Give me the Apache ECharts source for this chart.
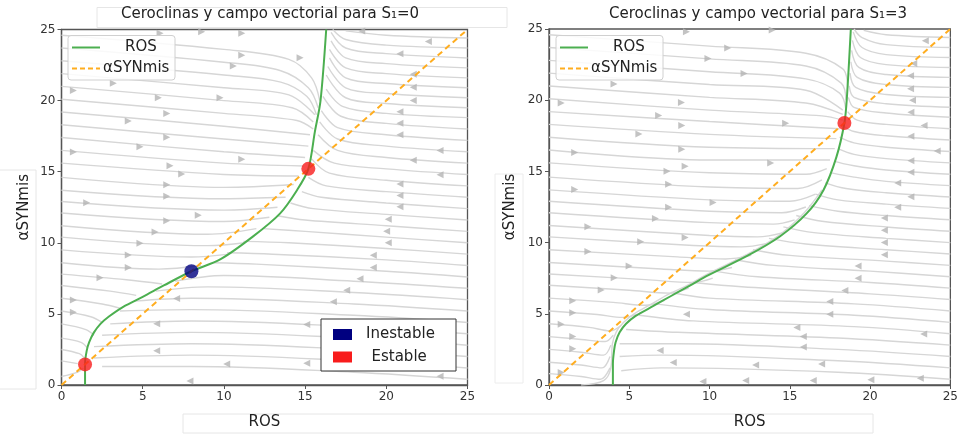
<!DOCTYPE html>
<html lang="es">
<head>
<meta charset="UTF-8">
<title>Ceroclinas</title>
<script src="https://cdn.jsdelivr.net/npm/echarts@6/dist/echarts.min.js"></script>
<style>
  html, body { margin: 0; padding: 0; background: #fff; }
  #chart { width: 961px; height: 435px; }
</style>
</head>
<body>
<div id="chart"></div>
<script>
// ---- datos ----
var xTicks = [0, 5, 10, 15, 20, 25];
var diag = [[0, 0], [25, 25]];   // ceroclina aSYNmis (y = x)

// panel S1=0
var ros0 = [[1.45,0],[1.45,1.5],[1.55,2.4],[1.7,3.0],[2.0,3.7],[2.4,4.3],[2.9,4.8],[3.8,5.5],[5.0,6.2],[6.3,7.0],[8,8],[9.8,8.85],[11.8,10.45],[13.45,12.05],[14.5,13.7],[15.2,15.2],[15.6,17.8],[15.95,20],[16.3,25]];
var estable0 = [[1.45,1.45],[15.2,15.2]];
var inestable0 = [[8,8]];

// panel S1=3
var ros3 = [[3.98,0],[3.98,1.5],[4.05,2.4],[4.15,3.0],[4.4,3.7],[4.8,4.3],[5.4,4.85],[6.5,5.55],[7.6,6.25],[8.8,7.0],[9.9,7.7],[12.4,9.1],[14.4,10.45],[16.05,12.05],[17.1,13.7],[17.9,16],[18.4,18.4],[18.55,20.1],[18.8,25]];
var estable3 = [[18.4,18.4]];

// lineas de flujo (campo vectorial), panel S1=0
var flowRight0 = [
  [[0,24.6],[10,23.6],[14,22.9],[15.4,21.6],[15.9,20]],
  [[0,23.7],[10,22.7],[13.5,22.1],[15.2,20.9],[15.8,19.5]],
  [[0,22.8],[10,21.8],[13.5,21.3],[15.1,20.3],[15.7,19]],
  [[0,21.9],[10,20.9],[14,20.4],[15.6,19]],
  [[0,21],[10,20],[14.2,19.5],[15.5,18.5]],
  [[0,20.1],[10,19.1],[14.5,18.6],[15.5,18]],
  [[0,19.2],[10,18.2],[15.3,17.6]],
  [[0,18.3],[10,17.3],[15.2,16.8]],
  [[0,17.4],[10,16.4],[15,16]],
  [[0,16.5],[10,15.6],[14.9,15.4]],
  [[0,15.6],[10,14.8],[14.6,14.7]],
  [[0,14.6],[10,13.9],[14.3,14.1]],
  [[0,13.7],[10,13.1],[13.8,13.2]],
  [[0,12.9],[10,12.3],[13.3,12.5]],
  [[0,12.1],[10,11.5],[12.8,11.8]],
  [[0,11.2],[9,10.6],[12,11]],
  [[0,10.4],[9,9.8],[11.3,10]],
  [[0,9.5],[8,9],[10.3,9.2]],
  [[0,8.6],[6,8.15],[8.6,8.4]],
  [[0,7.8],[4,7.4],[6.2,7.1]],
  [[0,7.0],[3,6.6],[4.6,6.3]],
  [[0,6.1],[2.5,5.7],[3.6,5.4]],
  [[0,5.2],[1.8,4.8],[2.5,4.4]],
  [[0,4.3],[1.5,3.9],[2.0,3.5]],
  [[0,3.3],[1.2,3.0],[1.6,2.6]],
  [[0,2.5],[1.1,2.2],[1.4,1.9]],
  [[0,1.7],[1,1.5]],
  [[0,0.6],[1.0,0.9],[1.35,1.2]]
];
var flowLeft0 = [
  [[25,24.4],[20,24.6],[17.5,24.9]],
  [[25,23.7],[20,23.9],[17.5,24.3],[16.7,25]],
  [[25,23.0],[20,23.3],[17.5,23.7],[16.6,24.8]],
  [[25,22.3],[20,22.6],[17.5,23.0],[16.6,24.2]],
  [[25,21.6],[20,21.9],[17.5,22.3],[16.5,23.6]],
  [[25,20.9],[20,21.2],[17.5,21.6],[16.5,23]],
  [[25,20.2],[20,20.5],[17.5,20.9],[16.4,22.4]],
  [[25,19.5],[20,19.8],[17.5,20.2],[16.3,21.8]],
  [[25,18.8],[20,19.1],[17.3,19.6],[16.3,20.8]],
  [[25,18],[20,18.4],[17.2,18.9],[16.1,20.3]],
  [[25,17.2],[20,17.6],[17,18.1],[16,19.3]],
  [[25,16.4],[20,16.8],[17,17.3],[15.9,18.5]],
  [[25,15.6],[20,16.0],[17,16.5],[15.8,17.6]],
  [[25,14.8],[20,15.2],[16.8,15.6],[15.5,16.5]],
  [[25,14],[20,14.4],[16.5,14.9],[15.4,15.9]],
  [[25,13.2],[20,13.6],[16.3,14.0],[15.2,14.6]],
  [[25,12.4],[20,12.8],[16,13.2],[14.8,13.6]],
  [[25,11.6],[20,12],[15.5,12.4],[14.1,12.8]],
  [[25,10.8],[20,11.2],[15,11.6],[13.3,11.9]],
  [[25,10],[20,10.4],[15,10.8],[12.4,11]],
  [[25,9.2],[20,9.6],[14,10],[11.2,10.1]],
  [[25,8.4],[20,8.8],[13,9.2],[10.2,9.3]],
  [[25,7.6],[20,8],[12,8.5],[9.3,8.6]],
  [[25,6.8],[18,7.3],[10,7.7],[7,7.3]],
  [[25,6],[18,6.5],[9,6.9],[5.8,6.6]],
  [[25,5.2],[18,5.7],[8,6.1],[4.5,5.9]],
  [[25,4.4],[18,4.9],[8,5.3],[3.6,5.2]],
  [[25,3.6],[18,4.1],[8,4.5],[3,4.3]],
  [[25,2.8],[18,3.3],[8,3.7],[2.5,3.5]],
  [[25,2.0],[18,2.5],[8,2.9],[2.0,2.7]],
  [[25,1.2],[18,1.7],[8,2.1],[2,1.9]],
  [[25,0.4],[18,0.9],[8,1.3],[2.5,1.3]]
];
var arrowsRight0 = [[6.07,24.74],[8.63,24.85],[11.1,24.74],[14.69,23.01],[11.1,23.19],[10.58,22.43],[3.19,21.22],[0.73,20.71],[5.96,20.2],[9.76,20.2],[6.48,19.1],[4.11,18.57],[6.48,17.42],[4.83,16.75],[0.73,16.38],[11.1,15.87],[6.68,15.41],[7.4,14.83],[6.48,14.08],[6.48,13.27],[1.55,12.81],[8.42,11.93],[6.48,11.55],[5.76,10.76],[4.83,9.96],[4.11,9.15],[4.11,8.27],[2.37,7.54],[0.73,5.97],[0.73,5.12]];
var arrowsLeft0 = [[18.49,24.9],[22.59,24.16],[20.84,23.29],[21.66,21.86],[21.66,20.94],[21.66,20.01],[20.84,19.21],[20.84,18.4],[20.84,17.6],[23.31,16.49],[21.66,15.8],[23.31,14.79],[20.84,14.14],[20.84,13.32],[20.84,12.53],[20.12,11.66],[20.02,10.81],[20.12,10.0],[19.2,9.13],[19.2,8.27],[18.38,7.47],[17.56,6.66],[7.09,6.09],[16.74,5.86],[5.86,4.3],[15.1,4.25],[5.86,2.4],[10.17,1.48],[15.1,1.53],[7.91,0.29],[23.31,0.61]];

// lineas de flujo, panel S1=3
var flowRight3 = [
  [[0,24.6],[10,23.8],[16,23.3],[18.3,22.2],[18.6,21]],
  [[0,23.7],[10,22.9],[16,22.4],[18.2,21.2],[18.5,20]],
  [[0,22.8],[10,22],[16,21.5],[18.1,20.5],[18.5,19.3]],
  [[0,21.9],[10,21.1],[16,20.7],[18.3,19.3]],
  [[0,21],[10,20.2],[16,19.8],[18.3,19]],
  [[0,20.1],[10,19.3],[17,18.9],[18.3,18.6]],
  [[0,19.2],[10,18.5],[18.1,18.0]],
  [[0,18.3],[10,17.6],[17.9,17.3]],
  [[0,17.4],[10,16.7],[17.8,16.6]],
  [[0,16.5],[10,15.8],[17.5,15.8]],
  [[0,15.6],[10,14.9],[16,14.8],[17.3,15.2]],
  [[0,14.6],[10,13.9],[15.5,13.8],[17,14.4]],
  [[0,13.7],[10,13],[15,12.9],[16.6,13.4]],
  [[0,12.9],[10,12.2],[14.5,12.1],[16,12.5]],
  [[0,12.1],[10,11.4],[14,11.3],[15.3,11.6]],
  [[0,11.2],[10,10.5],[13,10.4],[14.6,10.7]],
  [[0,10.4],[9,9.8],[12,9.7],[13.6,9.95]],
  [[0,9.5],[8,9],[11,8.85],[12.6,9.1]],
  [[0,8.6],[7,8.15],[10,8.0],[11.4,8.25]],
  [[0,7.8],[6,7.4],[9,7.2],[10.2,7.5]],
  [[0,7],[5,6.65],[7.5,6.45],[8.7,6.8]],
  [[0,6.1],[4,5.8],[6,5.6],[7.2,5.95]],
  [[0,5.2],[3,4.95],[4.6,4.75],[5.7,5.05]],
  [[0,4.3],[2.5,4.05],[3.8,3.8],[4.5,4.2]],
  [[0,3.4],[2,3.2],[3.5,3.05],[4.0,3.5]],
  [[0,2.5],[2,2.3],[3.4,2.1],[3.85,2.8]],
  [[0,1.6],[2,1.4],[3.3,1.2],[3.8,2.0]],
  [[0,0.8],[2,0.6],[3.2,0.4],[3.8,1.2]],
  [[2,0],[3.4,0.3],[3.85,1.2],[3.95,2.9],[4.2,3.75],[4.65,4.4],[5.3,5.0],[6.4,5.7],[7.4,6.35],[8.7,7.05],[9.8,7.75],[12.3,9.15],[14.3,10.5],[15.9,12.1],[17,13.7]]
];
var flowLeft3 = [
  [[25,24.4],[21,24.6],[19.6,24.9]],
  [[25,23.7],[21,23.9],[19.5,24.4],[19.0,25]],
  [[25,23],[21,23.2],[19.5,23.7],[18.95,24.8]],
  [[25,22.3],[21,22.5],[19.4,23],[18.9,24.2]],
  [[25,21.6],[21,21.8],[19.3,22.3],[18.85,23.5]],
  [[25,20.9],[21,21.1],[19.2,21.6],[18.8,22.7]],
  [[25,20.2],[21,20.4],[19.1,20.9],[18.75,21.9]],
  [[25,19.5],[21,19.75],[19,20.2],[18.7,21]],
  [[25,18.8],[21,19.1],[19,19.5],[18.65,20.2]],
  [[25,18],[21,18.3],[19.2,18.6],[18.6,19.2]],
  [[25,17.2],[21,17.5],[19,17.8],[18.3,18.2]],
  [[25,16.4],[21,16.7],[19,17],[18.1,17.4]],
  [[25,15.6],[21,15.9],[19,16.2],[18,16.6]],
  [[25,14.8],[21,15.1],[19,15.4],[17.8,15.7]],
  [[25,14],[21,14.3],[19,14.6],[17.6,14.9]],
  [[25,13.2],[21,13.5],[18.5,13.8],[17.2,14.2]],
  [[25,12.4],[21,12.7],[18,13],[16.6,13.4]],
  [[25,11.6],[21,11.9],[18,12.2],[16.2,12.6]],
  [[25,10.8],[21,11.1],[17,11.5],[15.4,11.9]],
  [[25,10],[21,10.3],[16.5,10.7],[14.6,11.1]],
  [[25,9.2],[21,9.5],[16,9.9],[13.7,10.3]],
  [[25,8.4],[21,8.7],[15,9.1],[12.7,9.5]],
  [[25,7.6],[20,8],[14,8.4],[11.6,8.8]],
  [[25,6.8],[20,7.2],[13,7.6],[10.3,8]],
  [[25,6],[20,6.4],[12,6.9],[9,7.2]],
  [[25,5.2],[19,5.7],[10,6.1],[7.6,6.5]],
  [[25,4.4],[19,4.9],[10,5.3],[6.6,5.7]],
  [[25,3.6],[19,4.1],[9,4.5],[5.6,4.9]],
  [[25,2.8],[18,3.3],[8,3.7],[4.8,3.9]],
  [[25,2.0],[18,2.5],[8,2.9],[4.4,2.9]],
  [[25,1.2],[18,1.7],[7,2.1],[4.4,2.0]],
  [[25,0.4],[18,0.9],[7,1.2],[4.5,1.0]]
];
var arrowsRight3 = [[8.56,24.81],[13.9,24.93],[11.13,23.67],[9.9,22.93],[12.15,21.88],[4.05,21.14],[0.76,19.81],[8.25,19.83],[6.83,18.92],[8.27,18.23],[14.74,18.39],[5.6,17.63],[1.6,16.32],[8.27,16.55],[7.35,15.01],[8.48,15.36],[13.81,15.59],[7.45,14.1],[1.6,13.73],[7.45,12.49],[10.22,12.81],[6.63,11.69],[2.42,11.11],[8.48,10.35],[5.71,10.06],[2.42,9.37],[4.99,8.36],[4.06,7.53],[3.25,6.68],[1.48,5.92],[1.48,5.07],[0.76,4.27],[1.48,3.4],[1.48,2.55],[0.76,0.87]];
var arrowsLeft3 = [[23.44,24.17],[22.72,22.57],[22.52,21.72],[22.52,20.8],[22.64,19.99],[22.54,19.15],[23.36,18.23],[22.54,17.47],[24.18,16.44],[22.54,15.75],[22.54,14.94],[21.72,14.19],[22.54,13.22],[21.72,12.49],[20.89,11.73],[20.89,10.86],[20.89,10.01],[20.89,9.14],[19.25,8.36],[19.25,7.49],[18.43,6.63],[17.49,5.87],[8.56,4.96],[17.49,4.96],[15.44,4.04],[15.84,3.4],[15.84,2.67],[23.34,3.58],[6.92,2.43],[7.74,1.58],[12.87,1.4],[16.98,1.47],[9.59,0.25],[12.25,0.32],[16.46,0.32],[20.05,0.37],[23.13,0.48]];

// ---- estilos ----
var FONT = 'DejaVu Sans';
var GREEN = '#4caf50';
var ORANGE = '#ffad1f';
var RED = '#f81c1c';
var NAVY = '#000080';
var STREAM = '#d6d6d6';
var ARROW = '#b4b4b4';

function streamSeries(lines, idx) {
    return lines.map(function (pts) {
        return {
            type: 'line', xAxisIndex: idx, yAxisIndex: idx,
            data: pts, symbol: 'none', smooth: 0.35, silent: true, z: 1,
            lineStyle: { color: STREAM, width: 1.4 }
        };
    });
}
function arrowSeries(pts, idx, rot) {
    return {
        type: 'scatter', xAxisIndex: idx, yAxisIndex: idx,
        data: pts, symbol: 'triangle', symbolSize: [7, 7], symbolRotate: rot,
        itemStyle: { color: ARROW }, silent: true, z: 2
    };
}
function panelSeries(idx, ros, est, inest) {
    var s = [
        { type: 'line', xAxisIndex: idx, yAxisIndex: idx, data: ros, symbol: 'none', smooth: 0.3, z: 3,
          lineStyle: { color: GREEN, width: 2 } },
        { type: 'line', xAxisIndex: idx, yAxisIndex: idx, data: diag, symbol: 'none', z: 4,
          lineStyle: { color: ORANGE, width: 2, type: [6, 4] } },
        { type: 'scatter', xAxisIndex: idx, yAxisIndex: idx, data: est, symbolSize: 14, z: 5,
          itemStyle: { color: RED } }
    ];
    if (inest) {
        s.push({ type: 'scatter', xAxisIndex: idx, yAxisIndex: idx, data: inest, symbolSize: 14, z: 5,
                 itemStyle: { color: NAVY } });
    }
    return s;
}

function makeX(idx) {
    return {
        gridIndex: idx, type: 'value', min: 0, max: 25, interval: 5,
        name: 'ROS', nameLocation: 'middle', nameGap: 30,
        nameTextStyle: { fontFamily: FONT, fontSize: 15, color: '#222' },
        axisLine: { show: true, lineStyle: { color: '#555', width: 1.3 } },
        axisTick: { show: true, inside: false, length: 4, lineStyle: { color: '#555' } },
        axisLabel: { fontFamily: FONT, fontSize: 12, color: '#333', margin: 6 },
        splitLine: { show: false }
    };
}
function makeY(idx, gap) {
    return {
        gridIndex: idx, type: 'value', min: 0, max: 25, interval: 5,
        name: 'αSYNmis', nameLocation: 'middle', nameGap: gap,
        nameTextStyle: { fontFamily: FONT, fontSize: 15, color: '#222' },
        axisLine: { show: true, lineStyle: { color: '#555', width: 1.3 } },
        axisTick: { show: true, inside: false, length: 4, lineStyle: { color: '#555' } },
        axisLabel: { fontFamily: FONT, fontSize: 12, color: '#333', margin: 6 },
        splitLine: { show: false }
    };
}

function legendTop(dx) {
    return [
        { type: 'rect', shape: { x: 68 + dx, y: 35.5, width: 107, height: 44.5, r: 3 },
          style: { fill: 'rgba(255,255,255,0.85)', stroke: '#d0d0d0', lineWidth: 1 }, z: 10 },
        { type: 'line', shape: { x1: 72 + dx, y1: 47.5, x2: 100 + dx, y2: 47.5 },
          style: { stroke: GREEN, lineWidth: 2 }, z: 11 },
        { type: 'text', x: 125 + dx, y: 47.5, z: 11,
          style: { text: 'ROS', font: '15px "DejaVu Sans"', fill: '#222', textVerticalAlign: 'middle' } },
        { type: 'line', shape: { x1: 72 + dx, y1: 68.5, x2: 100 + dx, y2: 68.5 },
          style: { stroke: ORANGE, lineWidth: 2, lineDash: [5, 3] }, z: 11 },
        { type: 'text', x: 103 + dx, y: 68.5, z: 11,
          style: { text: 'αSYNmis', font: '15px "DejaVu Sans"', fill: '#222', textVerticalAlign: 'middle' } }
    ];
}

var graphics = [
    // recuadros tenues de fondo
    { type: 'rect', shape: { x: 97, y: 7.5, width: 410, height: 20 }, style: { fill: 'none', stroke: '#e6e6e6' }, z: 0 },
    { type: 'rect', shape: { x: -2, y: 170, width: 38, height: 219 }, style: { fill: 'none', stroke: '#e6e6e6' }, z: 0 },
    { type: 'rect', shape: { x: 183, y: 414, width: 690, height: 19 }, style: { fill: 'none', stroke: '#e6e6e6' }, z: 0 },
    { type: 'rect', shape: { x: 495, y: 174, width: 28, height: 209 }, style: { fill: 'none', stroke: '#ececec' }, z: 0 },
    // leyenda de puntos de equilibrio
    { type: 'rect', shape: { x: 321, y: 319, width: 135, height: 52 }, style: { fill: '#fff', stroke: '#333', lineWidth: 1 }, z: 10 },
    { type: 'rect', shape: { x: 333, y: 329, width: 19, height: 11 }, style: { fill: NAVY }, z: 11 },
    { type: 'rect', shape: { x: 333, y: 351.5, width: 19, height: 11 }, style: { fill: RED }, z: 11 },
    { type: 'text', x: 366, y: 334.5, z: 11,
      style: { text: 'Inestable', font: '15px "DejaVu Sans"', fill: '#222', textVerticalAlign: 'middle' } },
    { type: 'text', x: 371.5, y: 357, z: 11,
      style: { text: 'Estable', font: '15px "DejaVu Sans"', fill: '#222', textVerticalAlign: 'middle' } }
].concat(legendTop(0), legendTop(488));

var option = {
    animation: false,
    backgroundColor: '#fff',
    title: [
        { text: 'Ceroclinas y campo vectorial para S₁=0', left: 265, top: 2, textAlign: 'center',
          textStyle: { fontFamily: FONT, fontSize: 15, fontWeight: 'normal', color: '#222' } },
        { text: 'Ceroclinas y campo vectorial para S₁=3', left: 753, top: 2, textAlign: 'center',
          textStyle: { fontFamily: FONT, fontSize: 15, fontWeight: 'normal', color: '#222' } }
    ],
    grid: [
        { left: 61.5, top: 29.5, width: 406, height: 362, show: true, borderColor: '#555', borderWidth: 1.3, backgroundColor: 'transparent' },
        { left: 549, top: 29, width: 406, height: 363, show: true, borderColor: '#555', borderWidth: 1.3, backgroundColor: 'transparent' }
    ],
    xAxis: [makeX(0), makeX(1)],
    yAxis: [makeY(0, 30), makeY(1, 31)],
    series: [].concat(
        streamSeries(flowRight0, 0), streamSeries(flowLeft0, 0),
        [arrowSeries(arrowsRight0, 0, -90), arrowSeries(arrowsLeft0, 0, 90)],
        panelSeries(0, ros0, estable0, inestable0),
        streamSeries(flowRight3, 1), streamSeries(flowLeft3, 1),
        [arrowSeries(arrowsRight3, 1, -90), arrowSeries(arrowsLeft3, 1, 90)],
        panelSeries(1, ros3, estable3, null)
    ),
    graphic: graphics
};

var myChart = echarts.init(document.getElementById('chart'));
myChart.setOption(option);
</script>
</body>
</html>
